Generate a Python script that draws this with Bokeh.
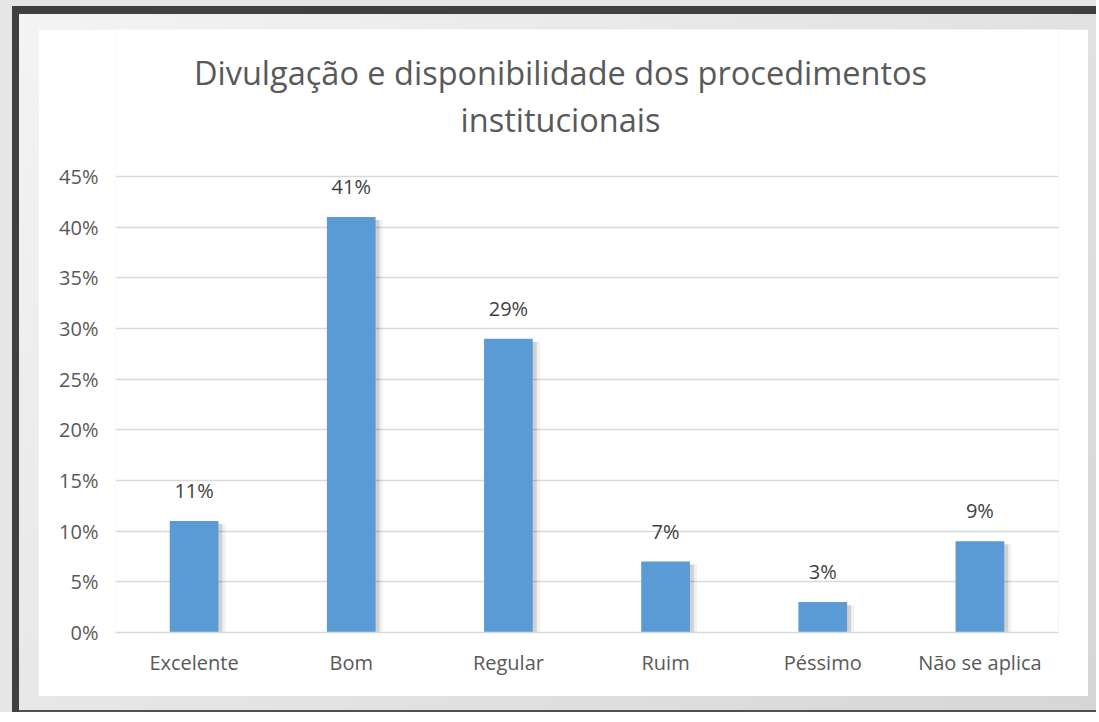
from bokeh.plotting import figure
from bokeh.models import (ColumnDataSource, FactorRange, Range1d, NumeralTickFormatter,
                          FixedTicker, LabelSet)
from bokeh.core.properties import value
from bokeh.layouts import column
from bokeh.transform import dodge
from bokeh.embed import file_html
from bokeh.resources import INLINE

categories = ["Excelente", "Bom", "Regular", "Ruim", "Péssimo", "Não se aplica"]
values = [0.11, 0.41, 0.29, 0.07, 0.03, 0.09]
value_labels = ["11%", "41%", "29%", "7%", "3%", "9%"]
y_ticks = [0.0, 0.05, 0.10, 0.15, 0.20, 0.25, 0.30, 0.35, 0.40, 0.45]
title_lines = ["Divulgação e disponibilidade dos procedimentos", "institucionais"]

FONT = "Open Sans"
BAR = "#5b9bd5"
TXT = "#595959"

# layout (pixels inside the figure)
FIG_W, FIG_H = 1050, 667
BORDER_L, BORDER_R, BORDER_B = 77, 30, 64
PLOT_TOP_PX = 147            # distance from figure top to the 45% gridline
Y_MAX_TICK = y_ticks[-1]
frame_h = FIG_H - BORDER_B
px_per_unit = (frame_h - PLOT_TOP_PX) / Y_MAX_TICK
y_end = frame_h / px_per_unit
frame_w = FIG_W - BORDER_L - BORDER_R
cat_px = frame_w / len(categories)

def y_from_top(px):
    return (frame_h - px) / px_per_unit

title_x = (FIG_W / 2 - 3 - BORDER_L) / cat_px
title_y = [y_from_top(43), y_from_top(89.5)]

src = ColumnDataSource(dict(
    cat=categories,
    val=values,
    shadow=[v - 0.003 for v in values],
    lbl=value_labels,
))

p = figure(
    x_range=FactorRange(*categories, range_padding=0),
    y_range=Range1d(0, y_end),
    width=FIG_W, height=FIG_H,
    output_backend="svg", toolbar_location=None,
    min_border_left=BORDER_L, min_border_right=BORDER_R,
    min_border_bottom=BORDER_B, min_border_top=0,
    background_fill_color="white", border_fill_color="white",
    outline_line_color=None,
)
p.title.visible = False

p.text(x=[title_x, title_x], y=title_y, text=title_lines, text_align="center",
       text_baseline="alphabetic", text_font=value(FONT), text_font_size="32.5px",
       text_color=TXT)

# soft shadow to the right of the bars
p.vbar(x=dodge("cat", 0.045, range=p.x_range), top="shadow", width=0.31, source=src,
       fill_color="black", fill_alpha=0.06, line_color=None)
p.vbar(x=dodge("cat", 0.025, range=p.x_range), top="shadow", width=0.31, source=src,
       fill_color="black", fill_alpha=0.13, line_color=None)
p.vbar(x="cat", top="val", width=0.31, source=src, fill_color=BAR, line_color=None)

labels = LabelSet(x="cat", y="val", text="lbl", source=src, text_align="center",
                  text_baseline="bottom", y_offset=17, text_font=value(FONT),
                  text_font_size=value("20px"), text_color=value("#404040"))
p.add_layout(labels)

p.yaxis.ticker = FixedTicker(ticks=y_ticks)
p.yaxis.formatter = NumeralTickFormatter(format="0%")
p.xgrid.grid_line_color = None
p.ygrid.grid_line_color = "#d9d9d9"
p.ygrid.grid_line_width = 1.3

for ax in (p.xaxis, p.yaxis):
    ax.axis_line_color = None
    ax.major_tick_line_color = None
    ax.minor_tick_line_color = None
    ax.major_tick_in = 0
    ax.major_tick_out = 0
    ax.major_label_text_font = FONT
    ax.major_label_text_font_size = "20px"
    ax.major_label_text_color = TXT

p.xaxis.axis_line_color = "#d9d9d9"
p.xaxis.axis_line_width = 1.3
p.yaxis.major_label_standoff = 17
p.xaxis.major_label_standoff = 16

inner = column(p, styles={
    "background": "linear-gradient(135deg, #f4f4f4 0%, #e6e6e6 45%, #d6d6d6 100%)",
    "box-shadow": "inset 7px 8px 0 0 #404040, inset 0 -2px 0 0 #505050",
    "padding": "23px 8px 16px 26px",
})
outer = column(inner, styles={
    "background": "#e6e6e6",
    "padding": "6px 0px 0px 12px",
})

open("out.html", "w").write(file_html(outer, INLINE))
